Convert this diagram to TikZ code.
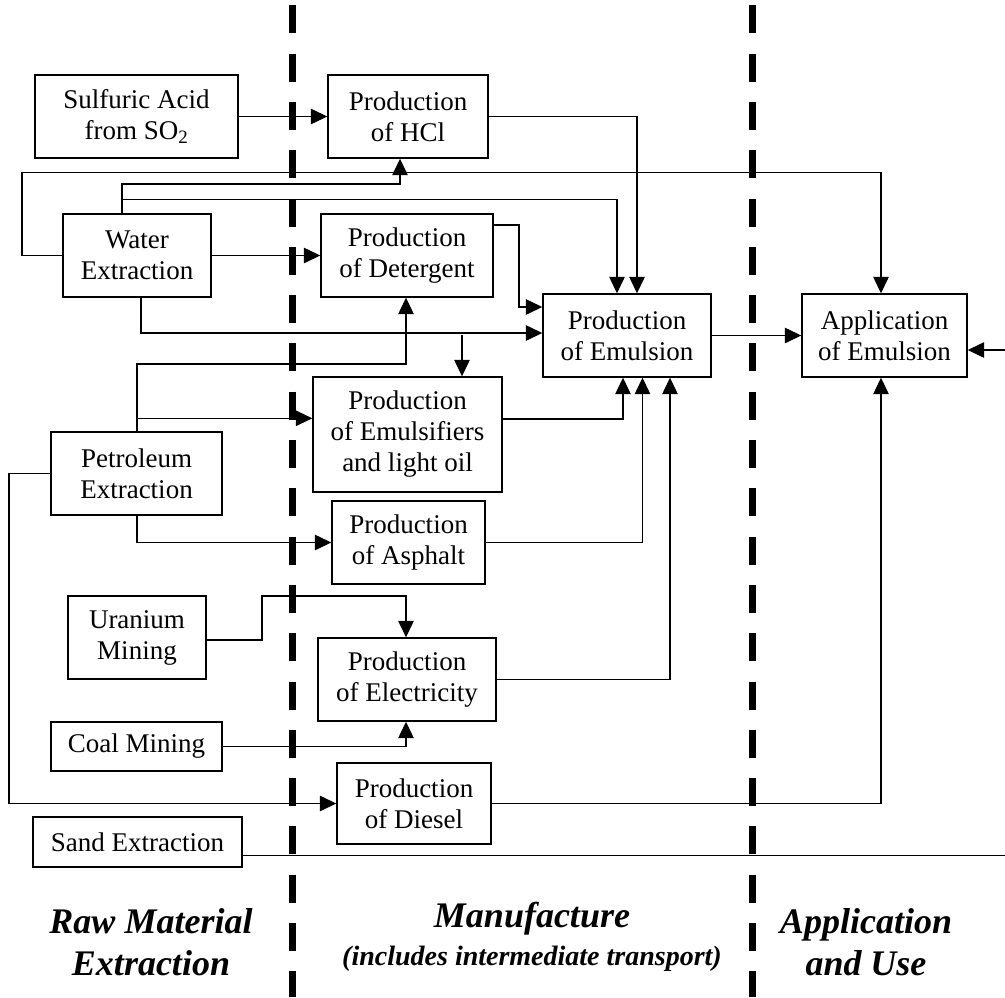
\documentclass[tikz,border=0pt]{standalone}
\usepackage{fontspec}
\setmainfont{Liberation Serif}
\usetikzlibrary{arrows.meta}
\tikzset{
  box/.style={draw, line width=1.4pt, inner sep=0pt, align=center,
    font=\fontsize{27}{31}\selectfont},
  conn/.style={line width=1.3pt, -{Triangle[length=16.5pt,width=15.5pt]}},
  divider/.style={line width=7pt, dash pattern=on 28pt off 20.3pt},
  phase/.style={font=\fontsize{36}{42}\selectfont\bfseries\itshape, align=center},
  sub/.style={font=\fontsize{28}{31}\selectfont\bfseries\itshape, align=center}
}
\begin{document}
\begin{tikzpicture}[x=1pt, y=-1pt]
\useasboundingbox (0,0) rectangle (1005,997);
\clip (0,0) rectangle (1005,997);

% boxes
\node[box, minimum width=203pt, minimum height=83pt] (sulf) at (136.5,116.5) {Sulfuric Acid\\from SO\textsubscript{2}};
\node[box, minimum width=160pt, minimum height=83pt] (hcl) at (408,116.5) {Production\\of HCl};
\node[box, minimum width=148pt, minimum height=83pt] (water) at (137,255.5) {Water\\Extraction};
\node[box, minimum width=172pt, minimum height=83pt] (deterg) at (407,255.5) {Production\\of Detergent};
\node[box, minimum width=168pt, minimum height=83pt] (emul) at (627,335.5) {Production\\of Emulsion};
\node[box, minimum width=165pt, minimum height=83pt] (app) at (884.5,335.5) {Application\\of Emulsion};
\node[box, minimum width=171pt, minimum height=83pt] (petro) at (136.5,473.5) {Petroleum\\Extraction};
\node[box, minimum width=189pt, minimum height=115pt] (emulsf) at (407.5,434.5) {Production\\of Emulsifiers\\and light oil};
\node[box, minimum width=153pt, minimum height=83pt] (asph) at (408.5,542.5) {Production\\of Asphalt};
\node[box, minimum width=138pt, minimum height=83pt] (uran) at (137,637.5) {Uranium\\Mining};
\node[box, minimum width=178pt, minimum height=83pt] (elec) at (407,679.5) {Production\\of Electricity};
\node[box, minimum width=171pt, minimum height=49pt] (coal) at (136.5,746.5) {Coal Mining};
\node[box, minimum width=154pt, minimum height=81pt] (diesel) at (414,803.5) {Production\\of Diesel};
\node[box, minimum width=209pt, minimum height=50pt] (sand) at (137.5,842) {Sand Extraction};

% connectors
\draw[conn] (sulf.east) -- (hcl.west);
\draw[conn] (water.east) -- (deterg.west);
\draw[conn] (water.west) -| (22,172.3) -| (app.north -| 881,0);
\draw[conn] (water.north -| 122,0) |- (400,184) -- (hcl.south -| 400,0);
\draw[conn] (water.north -| 122,0) |- (617,199.3) -- (emul.north -| 617,0);
\draw[conn] (hcl.east) -| (emul.north -| 637,0);
\draw[conn] (deterg.east |- 0,225) -| (519,307) -- (emul.west |- 0,307);
\draw[conn] (water.south -| 141,0) |- (emul.west |- 0,333);
\coordinate (branch) at (462,334.5);
\draw[conn] (branch) -- (emulsf.north -| 462,0);
\draw[conn] (petro.north -| 137,0) |- (406,364) -- (deterg.south -| 406,0);
\draw[conn] (petro.north -| 137,0) |- (emulsf.west |- 0,418.3);
\draw[conn] (petro.south -| 137,0) |- (asph.west);
\draw[conn] (petro.west) -| (9,803.5) -- (diesel.west);
\draw[conn] (emulsf.east |- 0,419) -| (emul.south -| 623,0);
\draw[conn] (asph.east) -| (emul.south -| 642.5,0);
\draw[conn] (elec.east) -| (emul.south -| 670,0);
\draw[conn] (emul.east) -- (app.west);
\draw[conn] (diesel.east) -| (app.south -| 881,0);
\draw[conn] (sand.east |- 0,855.7) -- (1015,855.7) |- (app.east |- 0,350);
\draw[conn] (uran.east |- 0,640) -| (262,596) -| (elec.north -| 406,0);
\draw[conn] (coal.east) -| (elec.south -| 406,0);

% dividers
\draw[divider] (292,5.3) -- (292,997);
\draw[divider] (752,5.3) -- (752,997);

% phase labels
\node[phase] (rawlbl) at (151,942) {Raw Material\\Extraction};
\node[phase, anchor=base] (manlbl) at (532,927.7) {Manufacture};
\node[sub, anchor=base] (sublbl) at (532,965) {(includes intermediate transport)};
\node[phase] (applbl) at (866,942) {Application\\and Use};
\end{tikzpicture}
\end{document}
